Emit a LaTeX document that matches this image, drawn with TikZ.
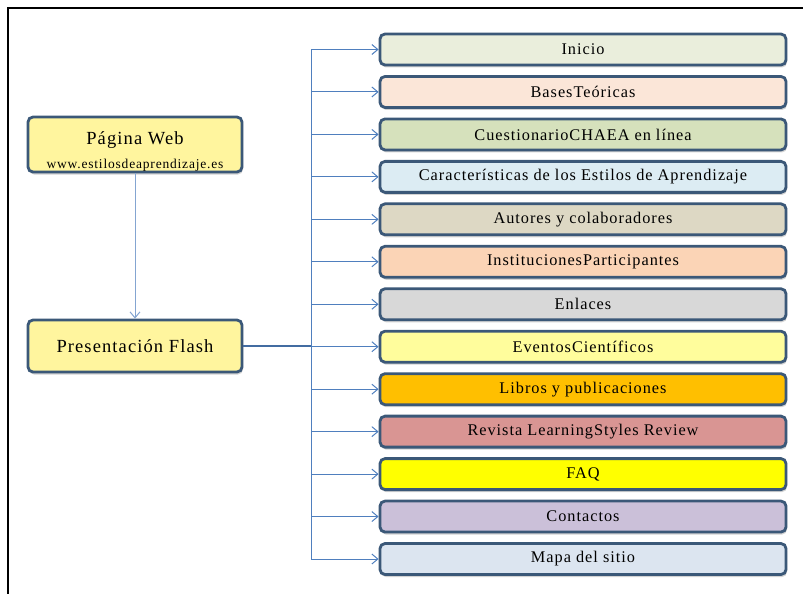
\documentclass[tikz,border=0pt]{standalone}
\usepackage{fontspec}
\setmainfont{Liberation Serif}[LetterSpace=6]
\usetikzlibrary{arrows.meta,positioning,calc,shadows}
\usepackage{xcolor}
\definecolor{boxline}{HTML}{3B5878}
\definecolor{linkblue}{HTML}{4F7FBE}
\definecolor{paleyel}{HTML}{FFF59E}
\definecolor{cInicio}{HTML}{EAEEDC}
\definecolor{cBases}{HTML}{FBE6D8}
\definecolor{cCuest}{HTML}{D6E1BC}
\definecolor{cCarac}{HTML}{DCECF3}
\definecolor{cAutor}{HTML}{DDD8C4}
\definecolor{cInst}{HTML}{FBD4B6}
\definecolor{cEnl}{HTML}{D8D8D8}
\definecolor{cEvent}{HTML}{FFFD9C}
\definecolor{cLibro}{HTML}{FFBF00}
\definecolor{cRev}{HTML}{D99593}
\definecolor{cFaq}{HTML}{FFFF00}
\definecolor{cCont}{HTML}{CBC0D9}
\definecolor{cMapa}{HTML}{DCE5F0}
\tikzset{
  menu/.style ={draw=boxline,line width=2.8pt,rounded corners=5pt,
                minimum width=406pt,minimum height=31pt,inner sep=0pt,
                font=\fontsize{16.3}{18}\selectfont,
                drop shadow={opacity=0.35,shadow xshift=1pt,shadow yshift=-2.5pt}},
  page/.style ={menu,fill=paleyel,minimum width=214pt,align=center,
                font=\fontsize{18.5}{20}\selectfont},
  link/.style ={draw=linkblue,line width=1pt},
  tip/.style  ={-{Straight Barb[length=6pt,width=10pt,line width=1pt]}},
}

\begin{document}
\begin{tikzpicture}[x=1pt,y=-1pt]
  \useasboundingbox (0,0) rectangle (803,594);
  % marco
  \draw[line width=2.5pt] (8,594) -- (8,8) -- (803,8);
  \node[page,minimum height=55pt] (web) at (135,144.5)
    {\rule{0pt}{27pt}Página Web\\[4pt]{\fontsize{13.5}{14}\selectfont www.estilosdeaprendizaje.es}};
  \node[page,minimum height=52pt] (flash) at (135,346) {Presentación Flash};
  \coordinate (trunk) at (311,0);
  \foreach \txt/\col [count=\i] in {
      Inicio/cInicio,
      BasesTeóricas/cBases,
      CuestionarioCHAEA en línea/cCuest,
      Características de los Estilos de Aprendizaje/cCarac,
      Autores y colaboradores/cAutor,
      InstitucionesParticipantes/cInst,
      Enlaces/cEnl,
      EventosCientíficos/cEvent,
      Libros y publicaciones/cLibro,
      Revista LearningStyles Review/cRev,
      FAQ/cFaq,
      Contactos/cCont,
      Mapa del sitio/cMapa}
  {
    \node[menu,fill=\col] (m\i) at (583,{49.5+42.46*(\i-1)}) {\txt};
    \draw[link,tip] (m\i.west -| trunk) -- (m\i.west);
  }
  \draw[link] (m1.west -| trunk) -- (m13.west -| trunk);
  \draw[link,line width=1.8pt,draw=linkblue!85!black] (flash.east) -- (flash.east -| trunk);
  \draw[link,draw=linkblue!70,tip] (web.south) -- (flash.north);
\end{tikzpicture}
\end{document}
